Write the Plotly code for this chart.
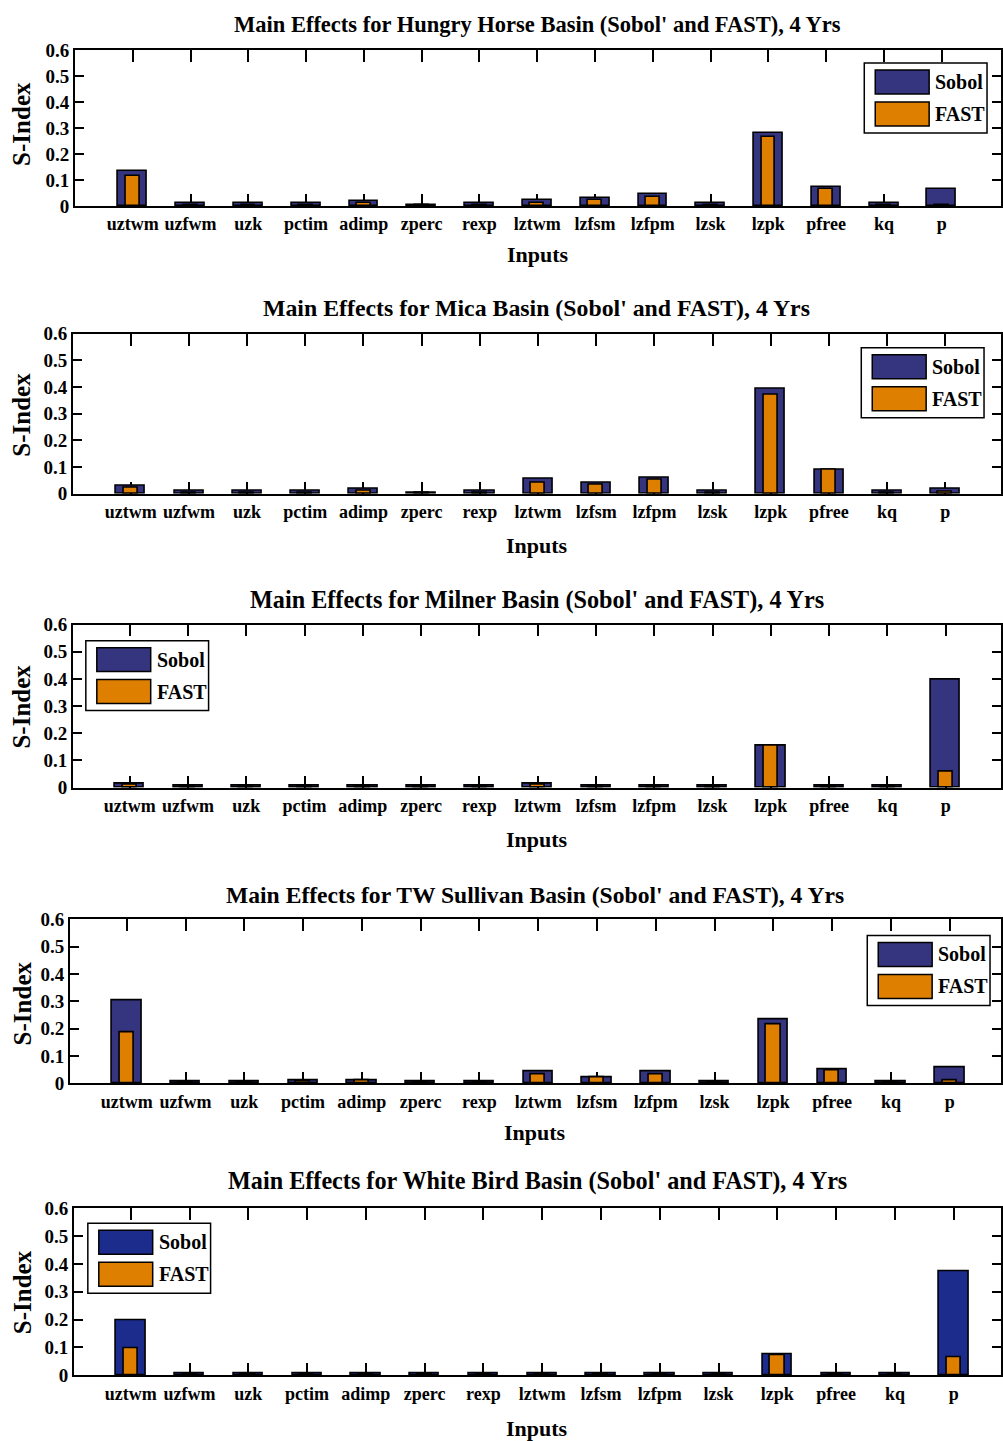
import plotly.graph_objects as go

# ---------------------------------------------------------------- data
inputs = ["uztwm", "uzfwm", "uzk", "pctim", "adimp", "zperc", "rexp", "lztwm",
          "lzfsm", "lzfpm", "lzsk", "lzpk", "pfree", "kq", "p"]
y_ticks = [0, 0.1, 0.2, 0.3, 0.4, 0.5, 0.6]

basin_names = ["Hungry Horse", "Mica", "Milner", "TW Sullivan", "White Bird"]

sobol_hungry_horse = [0.135, 0.013, 0.012, 0.012, 0.019, 0.005, 0.012, 0.023,
                      0.031, 0.044, 0.012, 0.280, 0.073, 0.012, 0.067]
fast_hungry_horse = [0.116, 0.005, 0.005, 0.005, 0.010, 0.003, 0.005, 0.013,
                     0.022, 0.035, 0.005, 0.266, 0.064, 0.005, 0.004]

sobol_mica = [0.031, 0.012, 0.012, 0.012, 0.019, 0.005, 0.012, 0.055,
              0.042, 0.061, 0.012, 0.392, 0.091, 0.012, 0.017]
fast_mica = [0.022, 0.005, 0.005, 0.005, 0.010, 0.003, 0.005, 0.041,
             0.034, 0.052, 0.005, 0.372, 0.089, 0.005, 0.006]

sobol_milner = [0.013, 0.006, 0.006, 0.006, 0.006, 0.006, 0.006, 0.013,
                0.006, 0.006, 0.006, 0.156, 0.006, 0.006, 0.398]
fast_milner = [0.009, 0.003, 0.003, 0.003, 0.003, 0.003, 0.003, 0.009,
               0.003, 0.003, 0.003, 0.153, 0.003, 0.003, 0.059]

sobol_tw_sullivan = [0.304, 0.007, 0.007, 0.012, 0.012, 0.006, 0.006, 0.045,
                     0.023, 0.042, 0.006, 0.235, 0.052, 0.006, 0.057]
fast_tw_sullivan = [0.188, 0.003, 0.003, 0.006, 0.009, 0.003, 0.003, 0.032,
                    0.020, 0.033, 0.003, 0.216, 0.049, 0.003, 0.011]

sobol_white_bird = [0.196, 0.006, 0.006, 0.006, 0.006, 0.006, 0.006, 0.006,
                    0.006, 0.006, 0.006, 0.075, 0.006, 0.006, 0.374]
fast_white_bird = [0.096, 0.003, 0.003, 0.003, 0.003, 0.003, 0.003, 0.003,
                   0.003, 0.003, 0.003, 0.071, 0.003, 0.003, 0.066]

sobol_series = [sobol_hungry_horse, sobol_mica, sobol_milner,
                sobol_tw_sullivan, sobol_white_bird]
fast_series = [fast_hungry_horse, fast_mica, fast_milner,
               fast_tw_sullivan, fast_white_bird]

# ---------------------------------------------------------------- layout
W, H = 1003, 1441
Y_OFFSET, Y_SCALE = 9.0, 0.986       # vertical placement of the row grid
FONT = "Liberation Serif"
SOBOL_COLORS = ["#35357f", "#35357f", "#35357f", "#35357f", "#1b2c8c"]
FAST_COLOR = "#df7f00"

# panel frame in pixels: left edge, top, bottom, first-category centre and
# category pitch, title / axis-label rows, title size and legend corner
panels = [
    dict(left=75, top=49, bottom=205, first=133, step=57.9, title_y=24,
         xlab_y=254, ylab_y=123, title_size=22.5, legend=(866, 62)),
    dict(left=73, top=333, bottom=493, first=131, step=58.3, title_y=307,
         xlab_y=545, ylab_y=414, title_size=23.8, legend=(863, 347)),
    dict(left=73, top=624, bottom=787, first=130, step=58.4, title_y=599,
         xlab_y=839, ylab_y=706, title_size=24.2, legend=(86, 640)),
    dict(left=70, top=919, bottom=1083, first=127, step=58.9, title_y=895,
         xlab_y=1132, ylab_y=1003, title_size=23.6, legend=(869, 935)),
    dict(left=74, top=1208, bottom=1375, first=131, step=58.9, title_y=1181,
         xlab_y=1428, ylab_y=1292, title_size=24.2, legend=(88, 1223)),
]


def px_x(v):
    return v / W


def px_y(v):
    return 1 - ((v - Y_OFFSET) / Y_SCALE) / H


positions = list(range(1, len(inputs) + 1))

fig = go.Figure()
annotations = []
shapes = []

for i, (name, sob, fst, pnl) in enumerate(zip(basin_names, sobol_series,
                                             fast_series, panels)):
    n = "" if i == 0 else str(i + 1)
    xa, ya = "x" + n, "y" + n

    fig.add_trace(go.Bar(x=positions, y=sob, width=0.5, name="Sobol",
                         marker=dict(color=SOBOL_COLORS[i],
                                     line=dict(color="black", width=1.6)),
                         xaxis=xa, yaxis=ya, showlegend=False))
    fig.add_trace(go.Bar(x=positions, y=fst, width=0.24, name="FAST",
                         marker=dict(color=FAST_COLOR,
                                     line=dict(color="black", width=1.6)),
                         xaxis=xa, yaxis=ya, showlegend=False))

    dom_x = [px_x(pnl["left"]), 1.0]
    dom_y = [px_y(pnl["bottom"]), px_y(pnl["top"])]
    x_lo = 1 - (pnl["first"] - pnl["left"]) / pnl["step"]
    x_hi = x_lo + (W - pnl["left"]) / pnl["step"]
    fig.update_layout({
        "xaxis" + n: dict(
            domain=dom_x, anchor=ya, range=[x_lo, x_hi],
            tickvals=positions, ticktext=inputs, layer="below traces",
            ticks="inside", ticklen=12, tickwidth=1.5, tickcolor="black",
            showline=True, linecolor="black", linewidth=1.5, mirror="ticks",
            showgrid=False, zeroline=False, ticklabelstandoff=1,
            tickfont=dict(family=FONT, size=18, color="black", weight=700)),
        "yaxis" + n: dict(
            domain=dom_y, anchor=xa, range=[0, 0.6], tickvals=y_ticks,
            layer="below traces",
            ticks="inside", ticklen=9, tickwidth=1.5, tickcolor="black",
            showline=True, linecolor="black", linewidth=1.5, mirror="ticks",
            showgrid=False, zeroline=False,
            tickfont=dict(family=FONT, size=19, color="black", weight=700)),
    })

    cx = (pnl["left"] + W) / 2
    annotations.append(dict(
        text=f"Main Effects for {name} Basin (Sobol' and FAST), 4 Yrs",
        x=px_x(cx), y=px_y(pnl["title_y"]), xref="paper", yref="paper",
        xanchor="center", yanchor="middle", showarrow=False,
        font=dict(family=FONT, size=pnl["title_size"], color="black",
                  weight=700)))
    annotations.append(dict(
        text="Inputs", x=px_x(cx), y=px_y(pnl["xlab_y"]),
        xref="paper", yref="paper", xanchor="center", yanchor="middle",
        showarrow=False,
        font=dict(family=FONT, size=22, color="black", weight=700)))
    annotations.append(dict(
        text="S-Index", x=px_x(22), y=px_y(pnl["ylab_y"]), textangle=-90,
        xref="paper", yref="paper", xanchor="center", yanchor="middle",
        showarrow=False,
        font=dict(family=FONT, size=25, color="black", weight=700)))

    # legend box with two swatches
    lx, ly = pnl["legend"]
    shapes.append(dict(type="rect", xref="paper", yref="paper",
                       x0=px_x(lx), x1=px_x(lx + 123),
                       y0=px_y(ly + 70), y1=px_y(ly),
                       line=dict(color="black", width=1.5),
                       fillcolor="white", layer="above"))
    for k, (label, color) in enumerate([("Sobol", SOBOL_COLORS[i]),
                                        ("FAST", FAST_COLOR)]):
        sy = ly + 7 + k * 32
        shapes.append(dict(type="rect", xref="paper", yref="paper",
                           x0=px_x(lx + 11), x1=px_x(lx + 65),
                           y0=px_y(sy + 24), y1=px_y(sy),
                           line=dict(color="black", width=1.5),
                           fillcolor=color, layer="above"))
        annotations.append(dict(
            text=label, x=px_x(lx + 69), y=px_y(sy + 12),
            xref="paper", yref="paper", xanchor="left", yanchor="middle",
            showarrow=False,
            font=dict(family=FONT, size=20, color="black", weight=700)))

fig.update_layout(
    width=W, height=H, margin=dict(l=0, r=0, t=0, b=0),
    barmode="overlay", bargap=0,
    plot_bgcolor="white", paper_bgcolor="white",
    annotations=annotations, shapes=shapes,
)

fig.write_html("out.html")
